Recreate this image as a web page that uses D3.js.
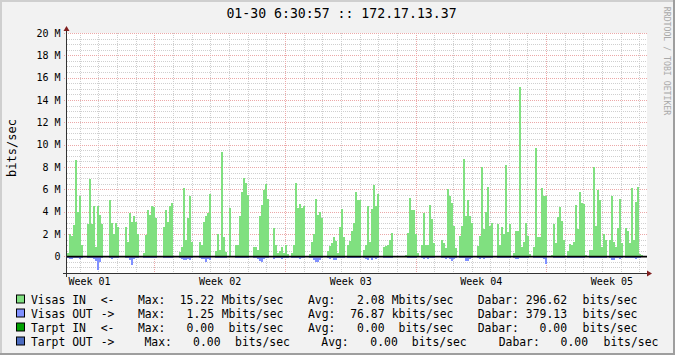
<!DOCTYPE html>
<html>
<head>
<meta charset="utf-8">
<script src="https://cdn.jsdelivr.net/npm/d3@7"></script>
<style>
  html, body { margin: 0; padding: 0; background: #fff; }
  svg { display: block; }
  text { font-family: "DejaVu Sans Mono", monospace; }
</style>
</head>
<body>
<svg id="chart"></svg>
<script>
// RRDtool style monthly traffic graph, 172.17.13.37
// Values in Mbits/sec, one value per step from T_START to T_END

const T_START = Date.UTC(2007, 0, 3, 7, 40);
const T_END = T_START + 31.087 * 864e5;

const inValues = [
    0.3, 2.0, 1.8, 2.8, 8.6, 4.0, 5.4, 1.0, 0, 0,
    2.9, 6.9, 2.9, 4.5, 0.8, 4.5, 3.7, 2.9, 0, 0,
    0, 5.0, 3.0, 2.0, 3.0, 2.6, 0, 0, 0, 2.6,
    1.3, 3.9, 3.1, 3.6, 3.1, 2.0, 0, 0, 0.3, 1.9,
    4.1, 3.7, 4.5, 4.4, 3.4, 0, 0, 0, 2.6, 4.1,
    3.1, 4.5, 4.8, 0, 0, 0, 0.4, 0.8, 6.1, 1.5,
    3.4, 5.4, 1.3, 0, 0, 0, 1.3, 1.0, 3.1, 3.6,
    3.9, 5.6, 0, 0, 0.5, 2.0, 0.6, 9.3, 1.7, 0.4,
    0, 4.3, 0, 0, 1.0, 1.0, 3.6, 5.8, 7.0, 6.6,
    5.5, 0, 0, 0.8, 0.8, 0.6, 3.6, 4.6, 5.9, 6.5,
    5.1, 0, 0, 2.5, 1.0, 0.3, 0.5, 0.8, 0.3, 1.0,
    0.2, 0, 0.3, 1.0, 6.6, 4.3, 4.7, 4.3, 4.5, 0,
    0, 0.2, 1.3, 2.0, 5.1, 3.7, 4.0, 3.4, 0, 0,
    0.5, 0.9, 1.2, 1.7, 1.4, 0.3, 2.6, 4.2, 1.7, 0,
    1.0, 1.4, 2.3, 3.0, 5.8, 5.0, 5.0, 0, 0.6, 1.0,
    4.5, 1.3, 4.2, 6.4, 4.5, 5.6, 0, 0, 0.8, 0.9,
    1.0, 1.5, 2.1, 0, 0, 0, 0, 0, 0, 0.1,
    2.1, 5.2, 4.1, 4.1, 2.0, 0.3, 0, 1.0, 3.9, 1.0,
    1.0, 4.6, 3.3, 1.2, 0, 0, 0, 1.5, 1.2, 0.7,
    6.0, 5.4, 4.8, 2.7, 0.7, 0, 1.8, 2.7, 8.7, 3.6,
    5.0, 3.6, 3.0, 0, 0, 0.9, 1.8, 8.0, 2.4, 4.0,
    6.2, 2.7, 3.0, 0, 0, 2.9, 1.0, 2.6, 2.0, 8.2,
    2.2, 2.9, 0, 0.3, 2.3, 2.3, 15.2, 0.8, 1.3, 3.0,
    1.8, 0.2, 0, 0.8, 9.7, 1.7, 1.7, 6.1, 5.4, 5.4,
    0, 0, 0.1, 2.9, 1.2, 3.5, 4.4, 3.2, 1.5, 0,
    0.5, 1.1, 1.0, 1.3, 4.6, 2.4, 5.8, 4.8, 4.7, 0.1,
    0, 0.6, 0.6, 8.0, 2.7, 5.9, 5.0, 0.8, 2.0, 1.5,
    0, 1.5, 5.4, 1.3, 0.8, 2.5, 5.1, 1.2, 0, 2.5,
    2.3, 1.2, 6.1, 1.5, 4.9, 6.2, 0.2, 0.1, 0, 0
];

// outgoing traffic is drawn below zero
const outValues = [
    -0.18, -0.22, -0.25, -0.2, -0.2, -0.2, -0.22, -0.18, 0, 0,
    -0.2, -0.2, -0.2, -0.25, -0.45, -1.25, -0.5, -0.2, 0, 0,
    0, -0.2, -0.22, -0.2, -0.2, -0.18, 0, 0, 0, -0.2,
    -0.2, -0.3, -0.75, -0.25, -0.2, -0.18, 0, 0, -0.18, -0.2,
    -0.2, -0.2, -0.2, -0.2, -0.2, 0, 0, 0, -0.2, -0.2,
    -0.2, -0.2, -0.2, 0, 0, 0, -0.18, -0.22, -0.3, -0.35,
    -0.22, -0.35, -0.2, 0, 0, 0, -0.2, -0.22, -0.25, -0.5,
    -0.25, -0.3, 0, 0, -0.18, -0.2, -0.2, -0.2, -0.2, -0.18,
    0, -0.1, 0, 0, -0.2, -0.2, -0.2, -0.2, -0.2, -0.2,
    -0.2, 0, 0, -0.18, -0.2, -0.25, -0.4, -0.55, -0.22, -0.2,
    -0.2, 0, 0, -0.22, -0.2, -0.18, -0.2, -0.22, -0.18, -0.2,
    -0.18, 0, -0.18, -0.2, -0.2, -0.2, -0.22, -0.2, -0.2, 0,
    0, -0.18, -0.2, -0.3, -0.55, -0.5, -0.3, -0.2, 0, 0,
    -0.18, -0.22, -0.2, -0.35, -0.3, -0.18, -0.2, -0.2, -0.2, 0,
    -0.18, -0.2, -0.2, -0.2, -0.2, -0.2, -0.2, 0, -0.18, -0.22,
    -0.35, -0.2, -0.3, -0.2, -0.25, -0.2, 0, 0, -0.18, -0.2,
    -0.2, -0.2, -0.2, 0, 0, 0, 0, 0, 0, 0,
    -0.2, -0.2, -0.2, -0.2, -0.2, -0.1, 0, -0.2, -0.22, -0.2,
    -0.25, -0.2, -0.2, -0.18, 0, 0, 0, -0.2, -0.2, -0.25,
    -0.2, -0.22, -0.45, -0.25, -0.18, 0, -0.2, -0.2, -0.2, -0.4,
    -0.4, -0.22, -0.2, 0, 0, -0.18, -0.25, -0.2, -0.25, -0.2,
    -0.2, -0.2, -0.2, 0, 0, -0.2, -0.2, -0.2, -0.2, -0.2,
    -0.2, -0.2, 0, -0.18, -0.25, -0.25, -0.2, -0.2, -0.2, -0.2,
    -0.2, -0.1, 0, -0.2, -0.2, -0.2, -0.2, -0.2, -0.25, -0.7,
    0, 0, -0.1, -0.2, -0.2, -0.2, -0.2, -0.2, -0.18, 0,
    -0.18, -0.2, -0.2, -0.2, -0.2, -0.2, -0.2, -0.2, -0.2, -0.1,
    0, -0.18, -0.2, -0.2, -0.2, -0.2, -0.2, -0.18, -0.2, -0.18,
    0, -0.2, -0.35, -0.3, -0.2, -0.2, -0.22, -0.2, 0, -0.2,
    -0.2, -0.2, -0.2, -0.2, -0.25, -0.2, -0.18, -0.1, 0, 0
];

const yMajorTicks = [0, 2, 4, 6, 8, 10, 12, 14, 16, 18, 20];
const yMin = -1.5, yMax = 20, yMinorStep = 0.5;

const titleText = '01-30 6:30:57 :: 172.17.13.37';
const yAxisTitle = 'bits/sec';
const watermark = 'RRDTOOL / TOBI OETIKER';

// legend
const seriesNames = ['Visas IN', 'Visas OUT', 'Tarpt IN', 'Tarpt OUT'];
const seriesArrows = ['<-', '->', '<-', '->'];
const maxValues = ['15.22', '1.25', '0.00', '0.00'];
const maxUnits = ['Mbits/sec', 'Mbits/sec', ' bits/sec', ' bits/sec'];
const avgValues = ['2.08', '76.87', '0.00', '0.00'];
const avgUnits = ['Mbits/sec', 'kbits/sec', ' bits/sec', ' bits/sec'];
const curValues = ['296.62', '379.13', '0.00', '0.00'];
const curUnits = [' bits/sec', ' bits/sec', ' bits/sec', ' bits/sec'];

// --- styles & layout ---
const W = 675, H = 355;
const PLOT = { left: 67, right: 647, top: 33, bottom: 273 };
const COLORS = {
    back: '#f2f2f2', canvas: '#ffffff', shadeA: '#cfcfcf', shadeB: '#9e9e9e',
    grid: '#cfcfcf', mgrid: '#eca8a8', axis: '#333333', arrow: '#801f1f',
    font: '#000000', watermark: '#a9a9a9',
    series: ['#80e080', '#8090ff', '#00a000', '#4c6cc0']
};
const MONO = '"DejaVu Sans Mono", monospace';
const LEG = {
    top: 303.5, rowH: 14, box: 8, boxX: 16,
    name: 31, arrow: 100.7,
    maxLbl: 138, maxNum: 214, maxUnit: 221.7,
    avgLbl: 308, avgNum: 384.5, avgUnit: 391.7,
    curLbl: 477.7, curNum: 567, curUnit: 575.7,
    shift: [[0, 0, 0], [0, 0, 0], [0, 0, 0], [6.5, 13.3, 21]]
};

const svg = d3.select('#chart').attr('width', W).attr('height', H);

// background with 3D frame
svg.append('rect').attr('width', W).attr('height', H).attr('fill', COLORS.back);
svg.append('path').attr('d', `M0,0H${W}V2H2V${H}H0Z`).attr('fill', COLORS.shadeA);
svg.append('path').attr('d', `M${W},0V${H}H0V${H - 2}H${W - 2}V0Z`).attr('fill', COLORS.shadeB);

svg.append('rect')
    .attr('x', PLOT.left).attr('y', PLOT.top)
    .attr('width', PLOT.right - PLOT.left).attr('height', PLOT.bottom - PLOT.top)
    .attr('fill', COLORS.canvas);

// scales
const x = d3.scaleUtc().domain([T_START, T_END]).range([PLOT.left, PLOT.right]);
const y = d3.scaleLinear().domain([yMin, yMax]).range([PLOT.bottom, PLOT.top]);
const crisp = v => Math.round(v) + 0.5;

// --- grid ---
const grid = svg.append('g').attr('shape-rendering', 'crispEdges');
const minorY = d3.range(yMin, yMax + 0.001, yMinorStep).filter(v => !yMajorTicks.includes(v));
const days = d3.utcDay.range(T_START, T_END).filter(d => d.getUTCDay() !== 1);
const mondays = d3.utcMonday.range(T_START, T_END);

grid.selectAll('line.hminor').data(minorY).join('line')
    .attr('x1', PLOT.left).attr('x2', PLOT.right)
    .attr('y1', d => crisp(y(d))).attr('y2', d => crisp(y(d)))
    .attr('stroke', COLORS.grid).attr('stroke-dasharray', '1,1');
grid.selectAll('line.vminor').data(days).join('line')
    .attr('x1', d => crisp(x(d))).attr('x2', d => crisp(x(d)))
    .attr('y1', PLOT.top).attr('y2', PLOT.bottom)
    .attr('stroke', COLORS.grid).attr('stroke-dasharray', '1,1');
grid.selectAll('line.hmajor').data(yMajorTicks).join('line')
    .attr('x1', PLOT.left - 3).attr('x2', PLOT.right)
    .attr('y1', d => crisp(y(d))).attr('y2', d => crisp(y(d)))
    .attr('stroke', COLORS.mgrid).attr('stroke-dasharray', '1,1');
grid.selectAll('line.vmajor').data(mondays).join('line')
    .attr('x1', d => crisp(x(d))).attr('x2', d => crisp(x(d)))
    .attr('y1', PLOT.top).attr('y2', PLOT.bottom)
    .attr('stroke', COLORS.mgrid).attr('stroke-dasharray', '1,1');

// --- data ---
const step = (T_END - T_START) / inValues.length;
const t0 = i => new Date(T_START + i * step);
const t1 = i => new Date(T_START + (i + 1) * step);

const bars = svg.append('g').attr('shape-rendering', 'crispEdges');
bars.selectAll('rect.in').data(inValues).join('rect')
    .attr('x', (d, i) => x(t0(i)))
    .attr('width', (d, i) => x(t1(i)) - x(t0(i)) + 0.3)
    .attr('y', d => y(d))
    .attr('height', d => y(0) - y(d))
    .attr('fill', COLORS.series[0]);
bars.selectAll('rect.out').data(outValues).join('rect')
    .attr('x', (d, i) => x(t0(i)))
    .attr('width', (d, i) => x(t1(i)) - x(t0(i)) + 0.3)
    .attr('y', y(0))
    .attr('height', d => y(d) - y(0))
    .attr('fill', COLORS.series[1]);

// zero line
svg.append('line')
    .attr('x1', PLOT.left).attr('x2', PLOT.right)
    .attr('y1', y(0) + 0.4).attr('y2', y(0) + 0.4)
    .attr('stroke', '#000').attr('stroke-width', 1.7);

// --- axes ---
svg.append('line')
    .attr('x1', PLOT.left - 4).attr('x2', PLOT.right + 2)
    .attr('y1', PLOT.bottom + 0.5).attr('y2', PLOT.bottom + 0.5)
    .attr('stroke', COLORS.axis);
svg.append('line')
    .attr('x1', PLOT.left - 0.5).attr('x2', PLOT.left - 0.5)
    .attr('y1', PLOT.bottom + 4).attr('y2', PLOT.top - 2)
    .attr('stroke', COLORS.axis);
svg.append('path')
    .attr('d', `M${PLOT.left - 3.5},${PLOT.top - 2}L${PLOT.left + 2.5},${PLOT.top - 2}L${PLOT.left - 0.5},${PLOT.top - 7}Z`)
    .attr('fill', COLORS.arrow);
svg.append('path')
    .attr('d', `M${PLOT.right},${PLOT.bottom - 2.5}L${PLOT.right},${PLOT.bottom + 3.5}L${PLOT.right + 5},${PLOT.bottom + 0.5}Z`)
    .attr('fill', COLORS.arrow);

const yAxis = svg.append('g')
    .attr('transform', `translate(${PLOT.left},0)`)
    .call(d3.axisLeft(y).tickValues(yMajorTicks).tickSize(0).tickPadding(6.5)
        .tickFormat(d => d === 0 ? '0' : `${d} M`));
yAxis.select('.domain').remove();
yAxis.selectAll('text').style('font-family', MONO).style('font-size', '10px').attr('fill', COLORS.font);

const weekCenters = d3.utcMonday.range(d3.utcMonday.floor(new Date(T_START)), T_END)
    .map(d => d3.utcHour.offset(d, 84))
    .filter(d => d >= T_START && d <= T_END);
const xAxis = svg.append('g')
    .attr('transform', `translate(0,${PLOT.bottom})`)
    .call(d3.axisBottom(x).tickValues(weekCenters).tickSize(0).tickPadding(5)
        .tickFormat(d3.utcFormat('Week %V')));
xAxis.select('.domain').remove();
xAxis.selectAll('text').style('font-family', MONO).style('font-size', '10px').attr('fill', COLORS.font);

// --- texts ---
svg.append('text')
    .attr('x', 341.5).attr('y', 18.3)
    .attr('text-anchor', 'middle')
    .style('font-family', MONO).style('font-size', '13.2px')
    .attr('fill', COLORS.font)
    .text(titleText);

svg.append('text')
    .attr('transform', 'translate(12,148) rotate(-90)')
    .attr('text-anchor', 'middle').attr('dominant-baseline', 'central')
    .style('font-family', MONO).style('font-size', '12px')
    .attr('fill', COLORS.font)
    .text(yAxisTitle);

svg.append('text')
    .attr('transform', 'translate(667,61) rotate(90)')
    .attr('text-anchor', 'middle').attr('dominant-baseline', 'central')
    .style('font-family', MONO).style('font-size', '8.2px')
    .attr('fill', COLORS.watermark)
    .text(watermark);

// --- legend ---
const legend = svg.append('g')
    .style('font-family', MONO).style('font-size', '11.4px')
    .attr('fill', COLORS.font);

seriesNames.forEach((name, i) => {
    const by = LEG.top + i * LEG.rowH;
    const [sMax, sAvg, sCur] = LEG.shift[i];
    legend.append('rect')
        .attr('x', LEG.boxX + 0.5).attr('y', by - 8.5)
        .attr('width', LEG.box).attr('height', LEG.box)
        .attr('fill', COLORS.series[i]).attr('stroke', '#000');

    const put = (tx, str, anchor) => legend.append('text')
        .attr('x', tx).attr('y', by)
        .attr('text-anchor', anchor || 'start')
        .style('white-space', 'pre')
        .text(str);

    put(LEG.name, name);
    put(LEG.arrow, seriesArrows[i]);
    put(LEG.maxLbl + sMax, 'Max:');
    put(LEG.maxNum + sMax, maxValues[i], 'end');
    put(LEG.maxUnit + sMax, maxUnits[i]);
    put(LEG.avgLbl + sAvg, 'Avg:');
    put(LEG.avgNum + sAvg, avgValues[i], 'end');
    put(LEG.avgUnit + sAvg, avgUnits[i]);
    put(LEG.curLbl + sCur, 'Dabar:');
    put(LEG.curNum + sCur, curValues[i], 'end');
    put(LEG.curUnit + sCur, curUnits[i]);
});
</script>
</body>
</html>
